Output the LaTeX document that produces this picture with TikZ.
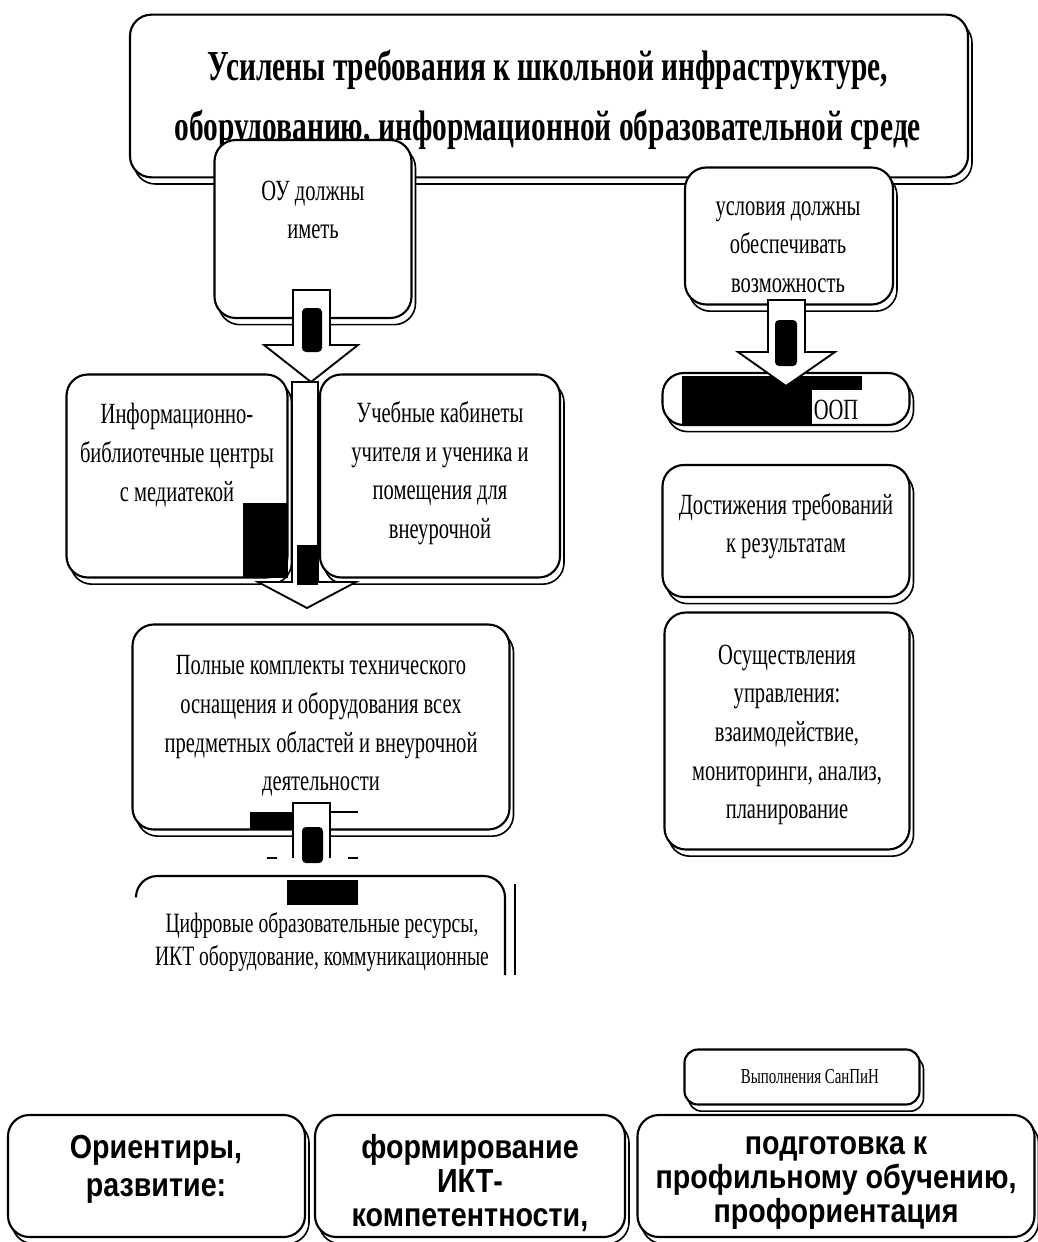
\documentclass[tikz,border=0pt]{standalone}
\usepackage{fontspec}
\setmainfont{Liberation Serif}
\newfontfamily\cond[FakeStretch=0.7]{Liberation Serif}
\newfontfamily\condt[FakeStretch=0.69]{Liberation Serif}
\newfontfamily\sanscb[FakeStretch=0.86]{Liberation Sans}
\usetikzlibrary{shadows}
\begin{document}
\begin{tikzpicture}[x=0.75pt,y=-0.75pt]
\useasboundingbox (0,0) rectangle (1038,1242);
\tikzset{
 bx/.style={draw, line width=1.6pt, rounded corners=16pt, fill=white, inner sep=0pt,
   copy shadow={shadow xshift=3pt, shadow yshift=-5pt, draw, fill=white, line width=1.2pt}},
 txt/.style={align=center, font=\cond\fontsize{22}{29}\selectfont, inner sep=0pt},
 ttxt/.style={align=center, font=\condt\bfseries\fontsize{32}{45}\selectfont, inner sep=0pt},
 btxt/.style={align=center, font=\sanscb\bfseries\fontsize{25}{25.5}\selectfont, inner sep=0pt},
 barrow/.style={draw, fill=white, line width=1.4pt, line join=miter},
 bxline/.style={draw, line width=1.6pt},
}
% title
\node[bx, minimum width=628.5pt, minimum height=122pt] (title) at (549,96) {};
\node[ttxt] (title-t) at (548,100) {Усилены требования к школьной инфраструктуре,\\оборудованию, информационной образовательной среде};
% left top
\node[bx, minimum width=147.75pt, minimum height=133.5pt] (ou) at (313,229) {};
\node[txt] (ou-t) at (313,210) {ОУ должны\\иметь};
% right top
\node[bx, minimum width=156pt, minimum height=102.75pt] (usl) at (789,236) {};
\node[txt] (usl-t) at (788,247) {условия должны\\обеспечивать\\возможность};
% arrow A
\draw[barrow] (293,290) -- (330,290) -- (330,345) -- (358,345) -- (311,382) -- (264,345) -- (293,345) -- cycle;
\fill[rounded corners=3pt] (302,308) -- (322,308) -- (322,352) -- (302,352) -- cycle;
% info & ucheb
\node[bx, minimum width=165.75pt, minimum height=152.25pt] (info) at (177,476) {};
\node[txt] (info-t) at (177,455) {Информационно-\\библиотечные центры\\с медиатекой};
\node[bx, minimum width=180pt, minimum height=152.25pt] (ucheb) at (440,476) {};
\node[txt] (ucheb-t) at (440,473) {Учебные кабинеты\\учителя и ученика и\\помещения для\\внеурочной};
\fill (243,503) rectangle (288,578);
% arrow C
\draw[barrow] (292,382) -- (318,382) -- (318,582) -- (356,582) -- (307,608) -- (258,582) -- (292,582) -- cycle;
\fill (297,545) rectangle (318,585);
% OOP
\node[bx, minimum width=185.25pt, minimum height=39pt] (oop) at (786,399) {};
\fill (682,376) rectangle (812,424);
\fill (812,376) rectangle (862,390);
\node[txt] (oop-t) at (836,410) {ООП};
% arrow B
\draw[barrow] (768,300) -- (805,300) -- (805,352) -- (835,352) -- (786,386) -- (738,352) -- (768,352) -- cycle;
\fill[rounded corners=3pt] (775,320) -- (797,320) -- (797,366) -- (775,366) -- cycle;
% right column
\node[bx, minimum width=185.25pt, minimum height=99pt] (dost) at (786,531) {};
\node[txt] (dost-t) at (786,526) {Достижения требований\\к результатам};
\node[bx, minimum width=183.75pt, minimum height=177.75pt] (osush) at (787,731) {};
\node[txt] (osush-t) at (787,735) {Осуществления\\управления:\\взаимодействие,\\мониторинги, анализ,\\планирование};
% poln
\node[bx, minimum width=282.75pt, minimum height=153.75pt] (poln) at (321,727) {};
\node[txt] (poln-t) at (321,726) {Полные комплекты технического\\оснащения и оборудования всех\\предметных областей и внеурочной\\деятельности};
% arrow D
\draw[barrow] (293,858) -- (293,803) -- (330,803) -- (330,858);
\fill (250,812) rectangle (293,830);
\draw[line width=1pt] (330,812) -- (358,812);
\fill[rounded corners=3pt] (302,827) -- (323,827) -- (323,863) -- (302,863) -- cycle;
\draw[line width=1.2pt] (267,858) -- (277,858) (348,858) -- (358,858);
% cifr (cut)
\coordinate (cifr-a) at (136,895);
\coordinate (cifr-b) at (505,876);
\draw[bxline, rounded corners=16pt] (cifr-a) |- (cifr-b) -- (505,975);
\draw[line width=1.2pt] (515,884) -- (515,975);
\fill (287,880) rectangle (358,905);
\node[align=center, font=\cond\fontsize{21}{25}\selectfont, inner sep=0pt] (cifr-t) at (322,942) {Цифровые образовательные ресурсы,\\ИКТ оборудование, коммуникационные};
% sanpin
\node[bx, rounded corners=10pt, minimum width=176.25pt, minimum height=41.25pt] (sanpin) at (802,1077) {};
\node[align=center, font=\cond\fontsize{16}{18}\selectfont, inner sep=0pt] (sanpin-t) at (810,1077) {Выполнения СанПиН};
% bottom boxes
\node[bx, minimum width=222.75pt, minimum height=91.5pt] (b1) at (156.5,1176) {};
\node[btxt, font=\sanscb\bfseries\fontsize{25}{28.5}\selectfont] (b1-t) at (156,1169) {Ориентиры,\\развитие:};
\node[bx, minimum width=232.5pt, minimum height=91.5pt] (b2) at (470,1176) {};
\node[btxt] (b2-t) at (470,1183) {формирование\\ИКТ-\\компетентности,};
\node[bx, minimum width=297.75pt, minimum height=91.5pt] (b3) at (836,1176) {};
\node[btxt] (b3-t) at (836,1183) {подготовка к\\профильному обучению,\\профориентация};
\end{tikzpicture}
\end{document}
